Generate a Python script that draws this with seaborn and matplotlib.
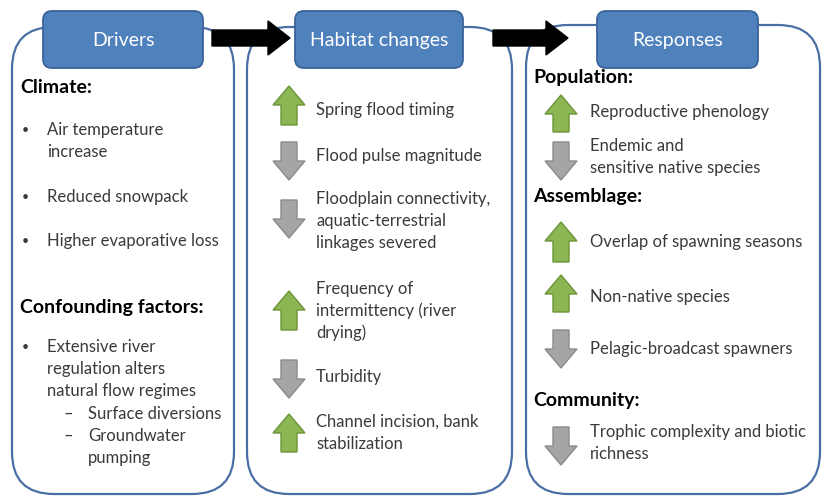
import matplotlib
matplotlib.use("Agg")
import matplotlib.pyplot as plt
import seaborn as sns
from matplotlib.patches import FancyBboxPatch, Polygon, FancyArrow

# ---- diagram content ----
headers = ["Drivers", "Habitat changes", "Responses"]

driver_sections = ["Climate:", "Confounding factors:"]
climate_items = [["Air temperature", "increase"], ["Reduced snowpack"], ["Higher evaporative loss"]]
confounding_items = [["Extensive river", "regulation alters", "natural flow regimes"]]
confounding_sub = [["Surface diversions"], ["Groundwater", "pumping"]]

habitat_items = [
    ["Spring flood timing"],
    ["Flood pulse magnitude"],
    ["Floodplain connectivity,", "aquatic-terrestrial", "linkages severed"],
    ["Frequency of", "intermittency (river", "drying)"],
    ["Turbidity"],
    ["Channel incision, bank", "stabilization"],
]
habitat_dirs = ["up", "down", "down", "up", "down", "up"]

response_sections = ["Population:", "Assemblage:", "Community:"]
response_items = [
    [["Reproductive phenology"], ["Endemic and", "sensitive native species"]],
    [["Overlap of spawning seasons"], ["Non-native species"], ["Pelagic-broadcast spawners"]],
    [["Trophic complexity and biotic", "richness"]],
]
response_dirs = [["up", "down"], ["up", "up", "down"], ["down"]]

# ---- styling ----
BLUE_LINE = "#4a6fa5"
HEAD_FILL = "#4f81bd"
HEAD_EDGE = "#3a639a"
GREEN = "#8cb553"
GREEN_EDGE = "#6d953a"
GREY = "#a5a5a5"
GREY_EDGE = "#8a8a8a"
TXT = "#3a3a3a"
LH = 22  # line height in px
BODY = 12
BOLD = 14

sns.set_theme(style="white")
plt.rcParams["font.family"] = ["Lato", "DejaVu Sans"]

fig = plt.figure(figsize=(8.22, 4.98), dpi=100)
ax = fig.add_axes([0, 0, 1, 1])
ax.set_xlim(0, 822)
ax.set_ylim(498, 0)
ax.axis("off")


def panel(x0, y0, x1, y1):
    ax.add_patch(FancyBboxPatch((x0, y0), x1 - x0, y1 - y0,
                                boxstyle="round,pad=0,rounding_size=42",
                                fc="white", ec=BLUE_LINE, lw=1.6, zorder=1))


def header(x0, y0, x1, y1, label):
    ax.add_patch(FancyBboxPatch((x0, y0), x1 - x0, y1 - y0,
                                boxstyle="round,pad=0,rounding_size=9",
                                fc=HEAD_FILL, ec=HEAD_EDGE, lw=1.3, zorder=3))
    ax.text((x0 + x1) / 2, (y0 + y1) / 2 + 1, label, color="white",
            fontsize=14, ha="center", va="center", zorder=4)


def block_arrow(cx, ytop, ybot, direction):
    w = 16  # half width of head
    sw = 8  # half width of shaft
    hl = 19  # head length
    if direction == "up":
        pts = [(cx, ytop), (cx + w, ytop + hl), (cx + sw, ytop + hl), (cx + sw, ybot),
               (cx - sw, ybot), (cx - sw, ytop + hl), (cx - w, ytop + hl)]
        fc, ec = GREEN, GREEN_EDGE
    else:
        pts = [(cx, ybot), (cx + w, ybot - hl), (cx + sw, ybot - hl), (cx + sw, ytop),
               (cx - sw, ytop), (cx - sw, ybot - hl), (cx - w, ybot - hl)]
        fc, ec = GREY, GREY_EDGE
    ax.add_patch(Polygon(pts, closed=True, fc=fc, ec=ec, lw=1.0, zorder=3))


def lines(x, y, rows, **kw):
    for i, r in enumerate(rows):
        ax.text(x, y + i * LH, r, color=TXT, fontsize=BODY, va="center", ha="left", **kw)


def section(x, y, label):
    ax.text(x, y, label, fontsize=BOLD, fontweight="bold", color="black", va="center")


# panels
panel(12, 27, 234, 494)
panel(247, 27, 512, 494)
panel(526, 25, 820, 494)

# connecting black arrows
for x0, x1 in [(212, 290), (493, 568)]:
    ax.add_patch(FancyArrow(x0, 38, x1 - x0, 0, width=16, head_width=34,
                            head_length=22, length_includes_head=True,
                            fc="black", ec="black", zorder=2))

header(43, 11, 203, 68, headers[0])
header(295, 11, 463, 68, headers[1])
header(597, 11, 758, 68, headers[2])

# ---- drivers ----
section(20, 87, driver_sections[0])
y_climate = [130, 197, 241]
for y, rows in zip(y_climate, climate_items):
    ax.text(22, y, "•", fontsize=9, color=TXT, va="center")
    lines(47, y, rows)

section(20, 307, driver_sections[1])
ax.text(22, 347, "•", fontsize=9, color=TXT, va="center")
lines(47, 347, confounding_items[0])
for y, rows in zip([414, 436], confounding_sub):
    ax.text(63, y, "–", fontsize=BODY, color=TXT, va="center")
    lines(88, y, rows)

# ---- habitat changes ----
hab_y = [110, 156, 199, 289, 377, 422]
hab_arrow = [(86, 125), (142, 180), (200, 238), (291, 330), (360, 398), (414, 452)]
for y, rows, d, (a0, a1) in zip(hab_y, habitat_items, habitat_dirs, hab_arrow):
    block_arrow(289, a0, a1, d)
    lines(316, y, rows)

# ---- responses ----
sec_y = [77, 196, 400]
item_y = [[112, 146], [242, 297, 349], [432]]
item_arrow = [[(95, 132), (142, 180)], [(222, 262), (275, 312), (330, 368)], [(427, 465)]]
for s, sy, its, iy, dirs, arr in zip(response_sections, sec_y, response_items,
                                     item_y, response_dirs, item_arrow):
    section(533, sy, s)
    for rows, y, d, (a0, a1) in zip(its, iy, dirs, arr):
        block_arrow(561, a0, a1, d)
        lines(590, y, rows)

fig.savefig("out.png", dpi=100)
